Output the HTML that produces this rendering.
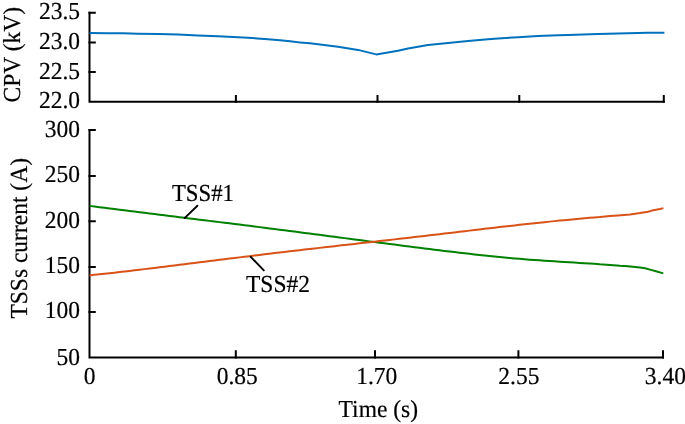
<!DOCTYPE html>
<html><head><meta charset="utf-8"><style>
html,body{margin:0;padding:0;background:#fff;width:685px;height:424px;overflow:hidden}
svg{display:block;will-change:transform}
text{font-family:"Liberation Serif",serif;font-size:23.5px;fill:#000;text-rendering:geometricPrecision;-webkit-font-smoothing:antialiased;stroke:#000;stroke-width:0.2px}
</style></head><body>
<svg width="685" height="424" viewBox="0 0 685 424">
<g stroke="#000" stroke-width="2.0" fill="none" stroke-linecap="square">
<path d="M89.5 12.8 V101.8 H663.8"/>
<path d="M89.5 12.8 H94.8 M89.5 42.4 H94.8 M89.5 71.9 H94.8"/>
<path d="M235.9 101.8 V96.1 M377.5 101.8 V96.1 M519.3 101.8 V96.1 M663.8 101.8 V96.1"/>
<path d="M89.5 130.1 V357.5 H663.0"/>
<path d="M89.5 130.1 H94.8 M89.5 175.9 H94.8 M89.5 221.2 H94.8 M89.5 266.9 H94.8 M89.5 312.0 H94.8"/>
<path d="M235.8 357.5 V351.2 M375.0 357.5 V351.2 M518.4 357.5 V351.2 M663.0 357.5 V351.2"/>
</g>
<text transform="translate(80.0 19.0) scale(1.0 1.04)" text-anchor="end">23.5</text>
<text transform="translate(80.0 49.2) scale(1.0 1.04)" text-anchor="end">23.0</text>
<text transform="translate(80.0 78.8) scale(1.0 1.04)" text-anchor="end">22.5</text>
<text transform="translate(80.0 108.3) scale(1.0 1.04)" text-anchor="end">22.0</text>
<text transform="translate(80.0 136.9) scale(1.0 1.04)" text-anchor="end">300</text>
<text transform="translate(80.0 182.3) scale(1.0 1.04)" text-anchor="end">250</text>
<text transform="translate(80.0 227.6) scale(1.0 1.04)" text-anchor="end">200</text>
<text transform="translate(80.0 272.8) scale(1.0 1.04)" text-anchor="end">150</text>
<text transform="translate(80.0 318.3) scale(1.0 1.04)" text-anchor="end">100</text>
<text transform="translate(80.0 364.5) scale(1.0 1.04)" text-anchor="end">50</text>
<text transform="translate(89.5 383.8) scale(1.0 1.04)" text-anchor="middle">0</text>
<text transform="translate(237.2 383.8) scale(1.0 1.04)" text-anchor="middle">0.85</text>
<text transform="translate(376.7 383.8) scale(1.0 1.04)" text-anchor="middle">1.70</text>
<text transform="translate(518.9 383.8) scale(1.0 1.04)" text-anchor="middle">2.55</text>
<text transform="translate(665.4 383.8) scale(1.0 1.04)" text-anchor="middle">3.40</text>
<text transform="translate(378.3 417.2) scale(1.0 1.04)" text-anchor="middle">Time (s)</text>
<text transform="translate(19.6 54.7) rotate(-90) scale(1.0 1.04)" text-anchor="middle">CPV (kV)</text>
<text transform="translate(27.4 238.3) rotate(-90) scale(1.0 1.04)" text-anchor="middle">TSSs current (A)</text>
<polyline fill="none" stroke="#0072bd" stroke-width="2.0" stroke-linejoin="round" points="89.5,32.9 108,33.3 123,33.2 138,33.7 158,34 178,34.6 198,35.4 218,36.2 228,36.7 248,37.7 268,39.2 280,40.2 290,41.3 300,42.4 310,43.3 320,44.5 338,46.8 358,49.9 376.2,54.4 398,50.7 408,48.5 418,46.8 428,45 448,43.1 468,41 488,39.2 498,38.4 518,37.2 538,36 558,35.2 568,34.9 598,33.9 628,33.2 648,32.8 664.4,32.7"/>
<polyline fill="none" stroke="#008000" stroke-width="2.0" stroke-linejoin="round" points="89.5,205.88 94.5,206.53 99.5,207.17 104.5,207.81 109.5,208.45 114.5,209.08 119.5,209.71 124.5,210.34 129.5,210.97 134.5,211.60 139.5,212.22 144.5,212.85 149.5,213.47 154.5,214.09 159.5,214.71 164.5,215.33 169.5,215.95 174.5,216.57 179.5,217.18 184.5,217.80 189.5,218.42 194.5,219.03 199.5,219.65 204.5,220.27 209.5,220.88 214.5,221.50 219.5,222.12 224.5,222.74 229.5,223.36 234.5,223.99 239.5,224.61 244.5,225.23 249.5,225.86 254.5,226.49 259.5,227.12 264.5,227.76 269.5,228.39 274.5,229.03 279.5,229.67 284.5,230.31 289.5,230.96 294.5,231.60 299.5,232.25 304.5,232.90 309.5,233.55 314.5,234.20 319.5,234.85 324.5,235.51 329.5,236.16 334.5,236.81 339.5,237.47 344.5,238.12 349.5,238.78 354.5,239.43 359.5,240.08 364.5,240.73 369.5,241.38 374.5,242.03 379.5,242.68 384.5,243.33 389.5,243.97 394.5,244.61 399.5,245.25 404.5,245.89 409.5,246.53 414.5,247.16 419.5,247.79 424.5,248.42 429.5,249.04 434.5,249.66 439.5,250.28 444.5,250.89 449.5,251.50 454.5,252.10 459.5,252.70 464.5,253.28 469.5,253.86 474.5,254.43 479.5,254.98 484.5,255.52 489.5,256.05 494.5,256.56 499.5,257.06 504.5,257.54 509.5,258.00 514.5,258.45 519.5,258.87 524.5,259.27 529.5,259.65 534.5,260.01 539.5,260.36 544.5,260.70 549.5,261.02 554.5,261.34 559.5,261.65 564.5,261.96 569.5,262.27 574.5,262.57 579.5,262.89 584.5,263.20 589.5,263.53 594.5,263.87 599.5,264.21 600.0,264.30 610.0,265.00 620.0,265.80 628.0,266.20 640.0,267.50 645.0,268.20 650.0,269.60 656.0,271.30 663.3,273.40"/>
<polyline fill="none" stroke="#d95319" stroke-width="2.0" stroke-linejoin="round" points="89.5,275.40 94.5,274.86 99.5,274.32 104.5,273.77 109.5,273.21 114.5,272.64 119.5,272.07 124.5,271.49 129.5,270.91 134.5,270.32 139.5,269.73 144.5,269.13 149.5,268.53 154.5,267.93 159.5,267.32 164.5,266.71 169.5,266.09 174.5,265.47 179.5,264.86 184.5,264.23 189.5,263.61 194.5,262.99 199.5,262.36 204.5,261.74 209.5,261.11 214.5,260.49 219.5,259.86 224.5,259.24 229.5,258.61 234.5,257.99 239.5,257.37 244.5,256.75 249.5,256.14 254.5,255.53 259.5,254.92 264.5,254.31 269.5,253.71 274.5,253.11 279.5,252.52 284.5,251.92 289.5,251.34 294.5,250.75 299.5,250.17 304.5,249.59 309.5,249.01 314.5,248.44 319.5,247.87 324.5,247.30 329.5,246.73 334.5,246.16 339.5,245.59 344.5,245.03 349.5,244.46 354.5,243.90 359.5,243.33 364.5,242.77 369.5,242.20 374.5,241.64 379.5,241.07 384.5,240.51 389.5,239.94 394.5,239.37 399.5,238.80 404.5,238.23 409.5,237.66 414.5,237.08 419.5,236.50 424.5,235.92 429.5,235.34 434.5,234.75 439.5,234.17 444.5,233.58 449.5,232.99 454.5,232.39 459.5,231.80 464.5,231.21 469.5,230.62 474.5,230.03 479.5,229.44 484.5,228.85 489.5,228.27 494.5,227.69 499.5,227.11 504.5,226.54 509.5,225.97 514.5,225.40 519.5,224.84 524.5,224.29 529.5,223.74 534.5,223.20 539.5,222.67 544.5,222.14 549.5,221.63 554.5,221.12 559.5,220.62 564.5,220.13 569.5,219.65 574.5,219.18 579.5,218.73 584.5,218.28 589.5,217.85 594.5,217.42 599.5,217.02 600.0,216.90 610.0,216.10 618.0,215.40 630.0,214.60 640.0,213.10 648.0,211.70 652.0,210.60 660.0,208.90 663.4,208.10"/>
<g stroke="#000" stroke-width="1.9" stroke-linecap="round">
<line x1="197.4" y1="205.7" x2="184.6" y2="218.1"/>
<line x1="250.7" y1="256.8" x2="263.8" y2="270.4"/>
</g>
<text transform="translate(171.9 200.6) scale(0.97 1.04)" font-size="23">TSS#1</text>
<text transform="translate(246 291.5) scale(1.0 1.04)" font-size="23">TSS#2</text>
</svg>
</body></html>
